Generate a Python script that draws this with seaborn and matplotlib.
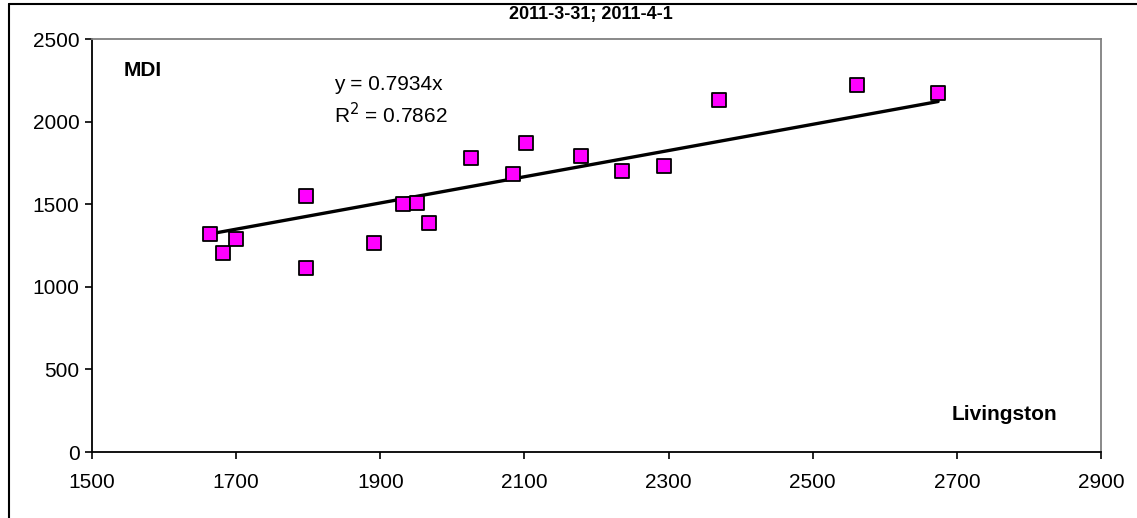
import matplotlib
matplotlib.use("Agg")
import matplotlib.pyplot as plt
import seaborn as sns
import numpy as np
import pandas as pd
from matplotlib.lines import Line2D

# Data
livingston = [1664, 1682, 1700, 1797, 1797, 1891, 1931, 1951, 1968, 2026,
              2084, 2102, 2178, 2235, 2294, 2370, 2561, 2674]
mdi = [1320, 1205, 1289, 1114, 1550, 1265, 1501, 1507, 1386, 1780,
       1683, 1870, 1792, 1701, 1731, 2131, 2221, 2173]
slope = 0.7934
r2 = 0.7862
x_ticks = [1500, 1700, 1900, 2100, 2300, 2500, 2700, 2900]
y_ticks = [0, 500, 1000, 1500, 2000, 2500]
title = "2011-3-31; 2011-4-1"

df = pd.DataFrame({"Livingston": livingston, "MDI": mdi})
xs = np.array([min(livingston), max(livingston)])
trend = pd.DataFrame({"x": xs, "y": slope * xs})

sns.set_theme(style="white")
plt.rcParams["font.family"] = ["Liberation Sans", "DejaVu Sans"]
plt.rcParams["text.color"] = "black"
plt.rcParams["xtick.color"] = "black"
plt.rcParams["ytick.color"] = "black"

W, H = 1137, 518
fig = plt.figure(figsize=(W / 100, H / 100), dpi=100)
ax = fig.add_axes([92 / W, 1 - 452 / H, (1101 - 92) / W, (452 - 39) / H])

sns.lineplot(data=trend, x="x", y="y", ax=ax, color="black", linewidth=2.4, zorder=2)
sns.scatterplot(data=df, x="Livingston", y="MDI", ax=ax, marker="s", s=115,
                color="#FF00FF", edgecolor="black", linewidth=1.3, zorder=3)

ax.set_xlim(1500, 2900)
ax.set_ylim(0, 2500)
ax.set_xticks(x_ticks)
ax.set_yticks(y_ticks)
ax.set_xticklabels([str(v) for v in x_ticks])
ax.set_yticklabels([str(v) for v in y_ticks])
ax.tick_params(axis="both", direction="out", length=5, width=1.2, colors="black",
               labelcolor="black", labelsize=15, bottom=True, left=True)
ax.tick_params(axis="x", pad=10)
ax.tick_params(axis="y", pad=4)
ax.set_xlabel("")
ax.set_ylabel("")

for side in ["left", "bottom"]:
    ax.spines[side].set_color("black")
    ax.spines[side].set_linewidth(1.3)
for side in ["top", "right"]:
    ax.spines[side].set_color("#808080")
    ax.spines[side].set_linewidth(1.3)

ax.text(124 / W, 1 - 70 / H, "MDI", transform=fig.transFigure, fontsize=15,
        fontweight="bold", va="center", ha="left", color="black")
ax.text(1057 / W, 1 - 415 / H, "Livingston", transform=fig.transFigure, fontsize=15,
        fontweight="bold", va="center", ha="right", color="black")
ax.text(334 / W, 1 - 85 / H, f"y = {slope}x", transform=fig.transFigure, fontsize=15,
        va="center", ha="left", color="black")
ax.text(334 / W, 1 - 115 / H, f"R$^2$ = {r2}", transform=fig.transFigure, fontsize=15,
        va="center", ha="left", color="black")
fig.text(591 / W, 1 - 15 / H, title, fontsize=13, fontweight="bold",
         ha="center", va="center", color="black")

# outer chart border (left and top edges visible)
fig.add_artist(Line2D([8.5 / W, 8.5 / W], [0, 1 - 4 / H], transform=fig.transFigure,
                      color="black", linewidth=1.5))
fig.add_artist(Line2D([8.5 / W, 1], [1 - 4 / H, 1 - 4 / H], transform=fig.transFigure,
                      color="black", linewidth=1.5))

fig.savefig("out.png", dpi=100)
